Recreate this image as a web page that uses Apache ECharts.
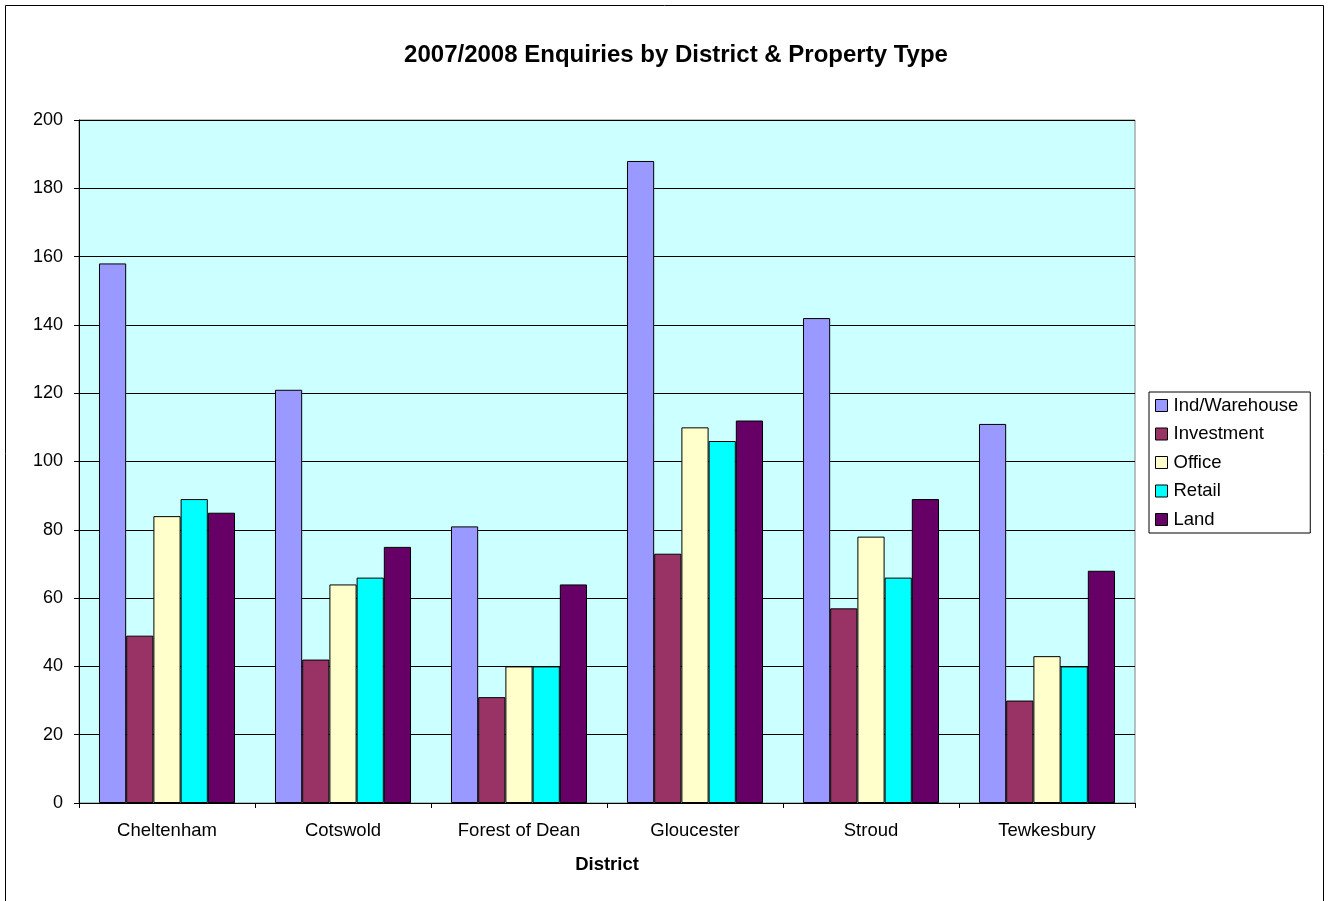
<!DOCTYPE html>
<html><head><meta charset="utf-8">
<script src="https://cdn.jsdelivr.net/npm/echarts@6/dist/echarts.min.js"></script>
<style>html,body{margin:0;padding:0;background:#fff}#c{width:1330px;height:901px}</style>
</head><body><div id="c"></div>
<script>
const categories = ['Cheltenham','Cotswold','Forest of Dean','Gloucester','Stroud','Tewkesbury'];
const seriesNames = ['Ind/Warehouse','Investment','Office','Retail','Land'];
const indWarehouse = [158,121,81,188,142,111];
const investment = [49,42,31,73,57,30];
const office = [84,64,40,110,78,43];
const retail = [89,66,40,106,66,40];
const land = [85,75,64,112,89,68];
const seriesValues = [indWarehouse, investment, office, retail, land];
const colors = ['#9999FF','#993366','#FFFFCC','#00FFFF','#660066'];
const FONT = 'Liberation Sans, Arial, sans-serif';

const chart = echarts.init(document.getElementById('c'), null, {renderer:'canvas'});
chart.setOption({
  animation:false,
  backgroundColor:'#fff',
  textStyle:{fontFamily:FONT},
  title:{text:'2007/2008 Enquiries by District & Property Type', left:671, top:38, textAlign:'center',
    textStyle:{fontFamily:FONT,fontSize:24,fontWeight:'bold',color:'#000'}},
  graphic:[{type:'rect', shape:{x:5.5,y:5.5,width:1318,height:905}, style:{fill:'none',stroke:'#000',lineWidth:1}, silent:true}],
  legend:{orient:'vertical', left:1149, top:392, padding:[4,12,4,6], itemGap:9.5,
    borderColor:'#000', borderWidth:1, itemWidth:12, itemHeight:12, icon:'rect',
    itemStyle:{borderColor:'#000',borderWidth:1},
    textStyle:{fontFamily:FONT,fontSize:18.5,color:'#000',lineHeight:18.5, padding:[0,0,0,1]},
    data:seriesNames},
  grid:{left:79, right:195, top:120, bottom:98, show:true, backgroundColor:'#CCFFFF', borderColor:'#808080', borderWidth:1, containLabel:false},
  xAxis:{type:'category', data:categories, name:'District', nameLocation:'middle', nameGap:52,
    nameTextStyle:{fontFamily:FONT,fontSize:18.5,fontWeight:'bold',color:'#000'},
    axisLine:{lineStyle:{color:'#000',width:1}},
    axisTick:{show:true,length:5,lineStyle:{color:'#000'}},
    axisLabel:{fontFamily:FONT,fontSize:18.5,color:'#000',margin:18}},
  yAxis:{type:'value', min:0, max:200, interval:20,
    axisLine:{show:true,lineStyle:{color:'#000',width:1}},
    axisTick:{show:true,length:5,lineStyle:{color:'#000'}},
    axisLabel:{fontFamily:FONT,fontSize:18,color:'#000',margin:16},
    splitLine:{show:true,lineStyle:{color:'#000',width:1}}},
  series: seriesNames.map((n,i)=>({
    name:n, type:'bar', data:seriesValues[i], barGap:'0%', barCategoryGap:'22.7%',
    itemStyle:{color:colors[i], borderColor:'#000', borderWidth:1}
  }))
});
</script></body></html>
